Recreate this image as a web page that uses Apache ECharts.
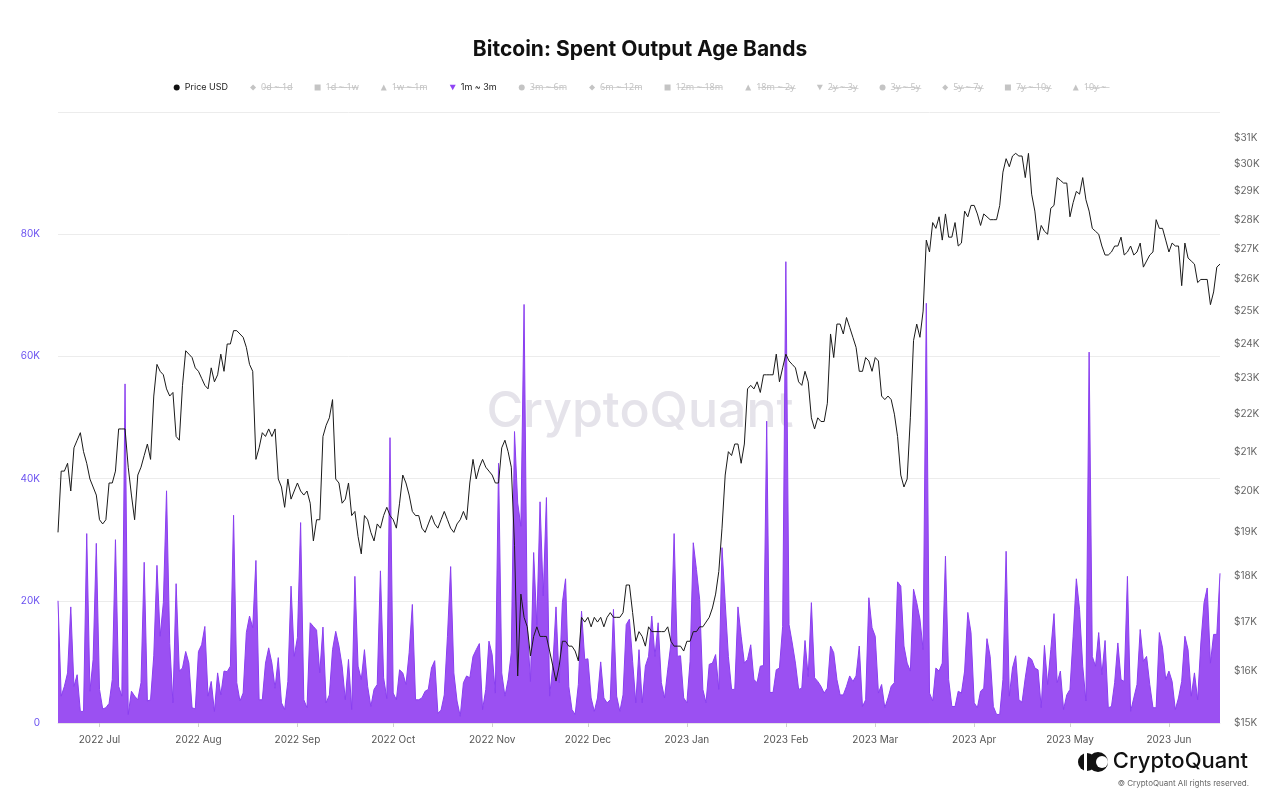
<!DOCTYPE html>
<html>
<head>
<meta charset="utf-8">
<script src="https://cdn.jsdelivr.net/npm/echarts@6/dist/echarts.min.js"></script>
<style>
html,body{margin:0;padding:0;background:#fff;}
#chart{width:1280px;height:806px;}
</style>
</head>
<body>
<div id="chart"></div>
<script>
// ---- data (daily, 2022-06-18 .. 2023-06-17) ----
const startDate = '2022-06-18';
const dayCount = 365;

// Spent Output 1m ~ 3m (thousands of BTC -> multiplied below)
const band1m3m = [
20,4.4,6,8.2,19,6,7.9,1.9,1.9,31,5.2,10.4,29.4,5.5,2.3,2.5,3.2,7.1,30,6,
4.4,55.5,1.4,5.2,4.4,3.8,6.6,26.3,3.6,3.8,11,25.8,14.2,19.7,38,13,3.3,22.8,8.5,9,
11.7,9.8,2.5,2.3,11.7,12.8,15.8,4.4,6.8,1.9,8.2,4.6,8.5,8.4,9.3,34,6.6,3.6,4.9,14.8,
17.5,15.6,26.6,3.8,3.8,9.8,12.3,9.8,5.7,10.7,3.3,2.2,6.8,22.4,10.9,14,32.8,3.8,2.5,16.4,
15.8,15.2,8.2,15.7,3.3,4.6,12,15,12.6,9.3,3.8,10.4,2.2,24,9.3,7.1,12,6,2.7,5.5,
6.3,24.9,7.4,4,46.7,4.9,3.8,8.7,8.2,6.3,11.5,19.4,3.8,3.8,4.1,5.2,5.5,9,10.2,1.6,
2.1,4.6,14.2,25.6,8.2,3.6,1.1,6.6,7.7,7.4,10.9,12,13,2.2,5.5,13.4,11.2,4.9,42.5,8.2,
4.4,7.1,11.5,47.7,36,32.2,68.5,15.8,6.8,27.9,16,36.2,20.8,36.9,4.4,9.3,19,6.6,19.7,23.6,
6,2.2,1.4,6.3,18.3,10.4,10.5,4.1,1.9,4.1,10,4.1,3.3,3.8,18.6,4.4,1.9,4.6,16.1,17,
10.1,3.3,12,3.3,9.3,10.9,17.5,10.9,16.4,6.6,4.1,8.7,13,31,10.9,11,4.1,3.3,10.1,29.5,
25.1,20.2,5.5,3.3,9.6,9.8,11.2,5.5,28.7,19.7,10.9,5.5,5.5,19,14.2,9.8,10.4,12.8,7.1,6.6,
9.3,9.4,49.4,5,5,8.7,9,15.8,75.5,16.1,13.1,9.8,5.5,5.7,13.5,7.6,19.7,7.4,6.8,6,
4.9,5.7,12.6,11.5,7.1,4.6,4.6,6,7.7,6.8,7.7,12.6,2.7,3.8,20.5,15.6,14.2,4.9,6.3,2.5,
4.1,6,6.6,23.1,22.4,12.6,9.8,8.5,21.9,19.7,17,12,68.7,4.9,3.6,9,8.5,9.8,27.3,7.1,
2.7,2.7,5.2,4.9,8.5,18.1,14.8,3.3,2.5,5.2,5.7,13.8,10.9,2.7,1.4,1.4,7.1,28.1,4.4,9,
11,3.8,3.4,7.4,10.8,10.4,9,8.7,2.5,12.7,6.3,12,17.9,6.6,8.5,2.2,4.6,5.5,14.2,23.6,
18.6,9.3,3.6,60.7,10.9,9.3,14.8,7.9,13.5,2.5,2.7,6.6,13.1,7.1,6.8,24,1.9,4.1,6.3,15.3,
10.1,10.9,6.3,2.5,2.5,14.8,12.3,7.1,8.5,6.8,2.2,4.1,6.8,14.2,12,4.4,8.2,3.8,13.1,19.7,
22.1,9.8,14.5,14.5,24.5
];

// Price USD (thousands of USD -> multiplied below)
const priceUsd = [
19.0,20.5,20.5,20.7,20.0,21.1,21.3,21.5,21.0,20.7,20.3,20.1,19.9,19.3,19.2,19.3,20.2,20.2,20.5,21.6,
21.6,21.6,20.6,19.9,19.3,20.4,20.6,20.9,21.2,20.8,22.5,23.4,23.2,23.1,22.7,22.5,22.6,21.4,21.3,22.8,
23.8,23.7,23.6,23.3,23.2,23.0,22.8,22.7,23.3,22.9,23.1,23.7,23.2,24.0,24.0,24.4,24.4,24.3,24.2,23.9,
23.4,23.2,20.8,21.1,21.5,21.4,21.6,21.4,21.6,20.3,20.1,19.6,20.3,19.8,20.0,20.2,20.0,19.9,20.0,19.7,
18.8,19.3,19.3,21.4,21.7,21.9,22.4,20.3,20.2,19.7,19.8,20.2,19.4,19.5,18.9,18.5,19.4,19.3,19.0,18.8,
19.2,19.1,19.4,19.6,19.4,19.3,19.1,19.7,20.4,20.2,19.9,19.5,19.4,19.4,19.1,19.0,19.2,19.4,19.2,19.1,
19.3,19.5,19.3,19.1,19.0,19.2,19.3,19.5,19.3,20.2,20.8,20.3,20.6,20.8,20.6,20.5,20.4,20.2,20.2,21.1,
21.3,21.0,20.6,18.7,15.9,17.6,17.1,16.9,16.3,16.7,16.9,16.7,16.7,16.7,16.4,16.1,15.8,16.1,16.6,16.6,
16.5,16.5,16.4,16.2,17.1,17.0,17.1,16.9,17.1,17.0,17.1,16.9,17.1,17.2,17.1,17.1,17.1,17.2,17.8,17.8,
17.2,16.6,16.8,16.7,16.5,16.9,16.8,16.8,16.8,16.8,16.8,16.9,16.6,16.5,16.5,16.5,16.4,16.6,16.6,16.8,
16.8,16.9,16.9,17.0,17.1,17.3,17.6,18.1,19.1,20.4,21.0,20.9,21.2,21.2,20.7,21.2,22.7,22.8,22.7,22.9,
22.6,23.1,23.1,23.1,23.1,23.7,22.9,23.3,23.7,23.5,23.4,23.3,22.9,22.8,23.2,22.9,21.9,21.6,21.9,21.8,
21.8,22.3,24.3,23.6,24.6,24.6,24.3,24.8,24.5,24.2,23.9,23.2,23.2,23.6,23.5,23.2,23.6,23.5,22.5,22.4,
22.5,22.4,22.0,21.4,20.4,20.1,20.3,21.9,24.1,24.6,24.2,25.0,27.3,26.9,27.9,27.7,28.1,27.3,28.2,27.4,
27.4,27.9,27.1,27.2,28.3,28.1,28.5,28.5,28.2,27.8,28.2,28.1,28.0,28.0,28.0,28.5,29.7,30.2,29.9,30.3,
30.4,30.3,30.3,29.5,30.4,28.9,28.3,27.3,27.8,27.6,27.5,28.4,28.5,29.5,29.4,29.3,29.3,28.1,28.6,29.0,
28.9,29.5,28.7,28.3,27.7,27.6,27.5,27.1,26.8,26.8,26.9,27.1,27.1,27.4,26.8,26.9,27.1,26.8,26.9,27.2,
26.4,26.6,26.8,26.9,28.0,27.7,27.7,27.3,26.9,27.2,27.1,27.1,25.8,27.2,26.7,26.6,26.5,25.9,26.0,26.0,
26.0,25.2,25.6,26.4,26.5
];

const leftTicks = [0, 20000, 40000, 60000, 80000];
const rightTicks = [15000,16000,17000,18000,19000,20000,21000,22000,23000,24000,25000,26000,27000,28000,29000,30000,31000];
const hiddenBands = ['0d ~ 1d','1d ~ 1w','1w ~ 1m','3m ~ 6m','6m ~ 12m','12m ~ 18m','18m ~ 2y','2y ~ 3y','3y ~ 5y','5y ~ 7y','7y ~ 10y','10y ~'];
const MONTHS = ['Jan','Feb','Mar','Apr','May','Jun','Jul','Aug','Sep','Oct','Nov','Dec'];

// ---- build ----
const dates = [];
{
  const t0 = Date.parse(startDate + 'T00:00:00Z');
  for (let i = 0; i < dayCount; i++) {
    dates.push(new Date(t0 + i * 86400000).toISOString().slice(0, 10));
  }
}
const bandData = band1m3m.map(v => Math.round(v * 1000));
const priceData = priceUsd.map(v => Math.round(v * 1000));

const invTri = 'path://M0,0 L10,0 L5,9 Z';
const iconCycle = ['diamond','rect','triangle', invTri, 'circle','diamond','rect','triangle', invTri,'circle','diamond','rect','triangle'];
const legendData = [{name:'Price USD', icon:'circle'}];
const allBands = ['0d ~ 1d','1d ~ 1w','1w ~ 1m','1m ~ 3m','3m ~ 6m','6m ~ 12m','12m ~ 18m','18m ~ 2y','2y ~ 3y','3y ~ 5y','5y ~ 7y','7y ~ 10y','10y ~'];
allBands.forEach((n, i) => legendData.push({name: n, icon: iconCycle[i]}));
const selected = {};
hiddenBands.forEach(n => selected[n] = false);
const strike = s => Array.from(s).map(c => c + '\u0336').join('');

const FONT = 'Inter, Roboto, "Noto Sans", sans-serif';
const series = [];
hiddenBands.forEach(n => series.push({name: n, type: 'line', data: [], yAxisIndex: 0, itemStyle: {color: '#999'}}));
series.push({
  name: '1m ~ 3m', type: 'line', yAxisIndex: 0, data: bandData,
  showSymbol: false, symbol: 'none',
  lineStyle: {color: '#8a3ff0', width: 1},
  itemStyle: {color: '#8f45f5'},
  areaStyle: {color: '#9b50f2', opacity: 1},
  z: 2
});
series.push({
  name: 'Price USD', type: 'line', yAxisIndex: 1, data: priceData,
  showSymbol: false, symbol: 'none',
  lineStyle: {color: '#1a1a1a', width: 1},
  itemStyle: {color: '#111'},
  z: 5
});

const chart = echarts.init(document.getElementById('chart'), null, {renderer: 'canvas'});
chart.setOption({
  animation: false,
  backgroundColor: '#fff',
  textStyle: {fontFamily: FONT},
  title: {
    text: 'Bitcoin: Spent Output Age Bands',
    left: 'center', top: 34,
    textStyle: {fontSize: 21, fontWeight: 'bold', color: '#111', fontFamily: FONT}
  },
  legend: {
    data: legendData, selected: selected,
    top: 78, left: 'center',
    itemWidth: 6, itemHeight: 6, itemGap: 22,
    formatter: n => hiddenBands.indexOf(n) >= 0 ? strike(n) : n,
    textStyle: {fontSize: 9, color: '#222', fontFamily: FONT},
    inactiveColor: '#c4c4c4'
  },
  grid: {left: 58, right: 60, top: 112, bottom: 83, containLabel: false},
  xAxis: {
    type: 'category', data: dates, boundaryGap: false,
    axisLine: {show: true, lineStyle: {color: '#e6e6e6'}},
    axisTick: {show: true, length: 4, lineStyle: {color: '#cfcfcf'},
      interval: (i, v) => v.slice(8) === '01'},
    axisLabel: {
      interval: (i, v) => v.slice(8) === '01',
      color: '#555', fontSize: 10, margin: 12, fontFamily: FONT,
      formatter: v => v.slice(0, 4) + ' ' + MONTHS[parseInt(v.slice(5, 7), 10) - 1]
    },
    splitLine: {show: false}
  },
  yAxis: [
    {
      type: 'value', min: 0, max: 100000, interval: 20000, position: 'left',
      axisLine: {show: false}, axisTick: {show: false},
      axisLabel: {
        color: '#6b52f0', fontSize: 10, margin: 18, showMaxLabel: false, fontFamily: FONT,
        formatter: v => leftTicks.indexOf(v) < 0 ? '' : (v === 0 ? '0' : (v / 1000) + 'K')
      },
      splitLine: {show: true, lineStyle: {color: '#ececec', width: 1}}
    },
    {
      type: 'log', logBase: 10, min: 15000, max: 32000, position: 'right',
      axisLine: {show: false}, axisTick: {show: false},
      axisLabel: {
        customValues: rightTicks,
        color: '#666', fontSize: 10, margin: 14, fontFamily: FONT,
        formatter: v => '$' + Math.round(v / 1000) + 'K'
      },
      splitLine: {show: false}
    }
  ],
  graphic: [
    {
      type: 'text', left: 'center', top: 387, z: 0, silent: true,
      style: {text: 'CryptoQuant', fontSize: 50, fontWeight: 500, fill: '#e5e3ea', fontFamily: FONT}
    },
    {
      type: 'group', right: 172, top: 752, children: [
        {type: 'circle', shape: {cx: 9, cy: 10, r: 9}, style: {fill: '#111'}},
        {type: 'circle', shape: {cx: 20, cy: 10, r: 10}, style: {fill: '#111'}},
        {type: 'circle', shape: {cx: 24, cy: 10, r: 6}, style: {fill: '#fff'}},
        {type: 'rect', shape: {x: 6, y: 0, width: 3, height: 20}, style: {fill: '#fff'}}
      ]
    },
    {
      type: 'text', right: 32, top: 750,
      style: {text: 'CryptoQuant', fontSize: 22, fontWeight: 500, fill: '#111', fontFamily: FONT}
    },
    {
      type: 'text', right: 31, top: 780,
      style: {text: '© CryptoQuant All rights reserved.', fontSize: 8, fill: '#666', fontFamily: FONT}
    }
  ],
  series: series
});
</script>
</body>
</html>
